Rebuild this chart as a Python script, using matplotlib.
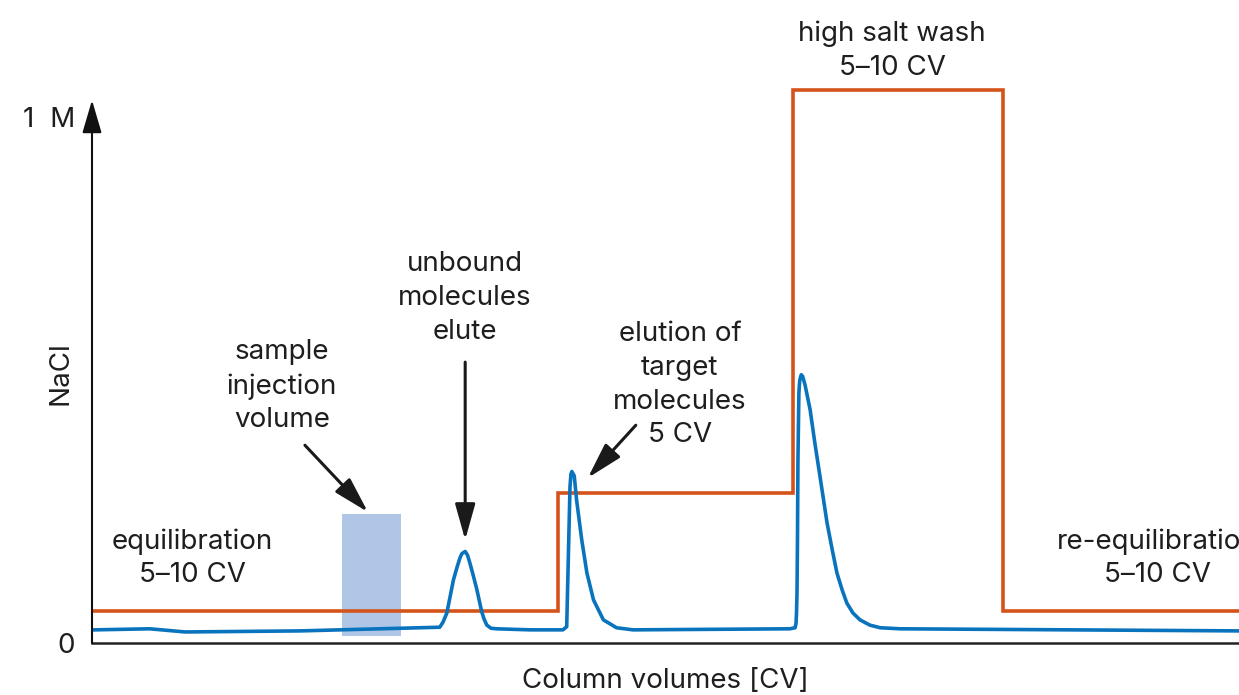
import matplotlib.pyplot as plt
from matplotlib.patches import Rectangle

plt.rcParams['font.family'] = ['Inter', 'DejaVu Sans']

# UV trace (x in CV, y in M-scaled units)
trace_x = [0.06, 1.23, 1.98, 4.43, 7.40, 7.47, 7.55, 7.69, 7.77, 7.83, 7.87, 7.94, 7.99, 8.04,
           8.11, 8.19, 8.29, 8.34, 8.40, 8.49, 8.61,
           9.32, 10.02, 10.10, 10.13, 10.17, 10.19, 10.21, 10.22, 10.26, 10.31, 10.42, 10.53,
           10.67, 10.88, 11.16, 11.51,
           14.85, 14.96, 14.98, 14.99, 15.00, 15.01, 15.02, 15.04, 15.05, 15.06, 15.09, 15.12,
           15.17, 15.28, 15.38, 15.49, 15.64, 15.75, 15.85, 15.96, 16.06, 16.19, 16.34, 16.55,
           16.77, 17.19, 24.40]
trace_y = [0.025, 0.027, 0.021, 0.023, 0.030, 0.040, 0.057, 0.120, 0.145, 0.162, 0.170, 0.174,
           0.167, 0.152, 0.129, 0.101, 0.060, 0.046, 0.034, 0.028, 0.027,
           0.025, 0.025, 0.031, 0.145, 0.297, 0.321, 0.326, 0.324, 0.318, 0.272, 0.196, 0.133,
           0.082, 0.044, 0.029, 0.025,
           0.027, 0.029, 0.038, 0.059, 0.095, 0.196, 0.348, 0.475, 0.490, 0.500, 0.510, 0.507,
           0.491, 0.443, 0.380, 0.316, 0.228, 0.177, 0.133, 0.101, 0.076, 0.057, 0.044, 0.034,
           0.029, 0.027, 0.023]

# NaCl step gradient
salt_edges = [0, 9.92, 14.91, 19.38, 24.40]
salt_levels = [0.060, 0.285, 1.051, 0.060]

# sample injection window
sample_x = [5.32, 6.57]
sample_y = [0.013, 0.245]

orange = '#D4531A'
blue = '#0A73BE'

fig = plt.figure(figsize=(12.39, 6.95), dpi=100)
ax = fig.add_axes([92 / 1239, 52 / 695, 1 - 92 / 1239, 643 / 695])
ax.set_xlim(0, 24.404)
ax.set_ylim(0, 1.2224)

ax.add_patch(Rectangle((sample_x[0], sample_y[0]), sample_x[1] - sample_x[0],
                       sample_y[1] - sample_y[0], color='#AFC6E6', lw=0, zorder=1))
ax.stairs(salt_levels, salt_edges, color=orange, lw=2.6, zorder=2, baseline=None)
ax.plot(trace_x, trace_y, color=blue, lw=2.6, zorder=3, solid_joinstyle='round')

for s in ['top', 'right', 'left']:
    ax.spines[s].set_visible(False)
ax.spines['bottom'].set_linewidth(1.8)
ax.spines['bottom'].set_color('#222222')

# y axis with arrow head
ax.annotate('', xy=(0, 1.032), xytext=(0, 0),
            arrowprops=dict(arrowstyle='-|>,head_length=0.85,head_width=0.25',
                            color='#111111', lw=1.5, mutation_scale=24,
                            shrinkA=0, shrinkB=0), annotation_clip=False)

fs = 20
tc = '#1e1e1e'
ls = 1.38

ax.set_xticks([])
ax.set_yticks([0, 1])
ax.set_yticklabels(['0', '1  M'], fontsize=fs, color=tc)
ax.tick_params(axis='y', length=0, pad=12)
ax.set_xlabel('Column volumes [CV]', fontsize=fs, color=tc, labelpad=18)
ax.set_ylabel('NaCl', fontsize=fs, color=tc)
ax.yaxis.set_label_coords(-0.016, 0.42)

ax.text(2.13, 0.161, 'equilibration\n5–10 CV', ha='center', va='center', fontsize=fs,
        color=tc, linespacing=ls)
ax.text(22.66, 0.161, 're-equilibration\n5–10 CV', ha='center', va='center', fontsize=fs,
        color=tc, linespacing=ls)
ax.text(17.02, 1.126, 'high salt wash\n5–10 CV', ha='center', va='center', fontsize=fs,
        color=tc, linespacing=ls)

arrow = dict(arrowstyle='-|>,head_length=1.0,head_width=0.28', color='#1a1a1a',
             lw=2.2, mutation_scale=22, shrinkA=0, shrinkB=0)
ax.text(4.04, 0.488, 'sample\ninjection\nvolume', ha='center', va='center', fontsize=fs,
        color=tc, linespacing=ls)
ax.annotate('', xy=(5.87, 0.249), xytext=(4.53, 0.376), arrowprops=arrow)
ax.text(7.94, 0.656, 'unbound\nmolecules\nelute', ha='center', va='center', fontsize=fs,
        color=tc, linespacing=ls)
ax.annotate('', xy=(7.94, 0.196), xytext=(7.94, 0.534), arrowprops=arrow)
ax.text(12.51, 0.491, 'elution of\ntarget\nmolecules\n5 CV', ha='center', va='center',
        fontsize=fs, color=tc, linespacing=ls)
ax.annotate('', xy=(10.55, 0.314), xytext=(11.57, 0.414), arrowprops=arrow)

fig.savefig('out.png', dpi=100)
